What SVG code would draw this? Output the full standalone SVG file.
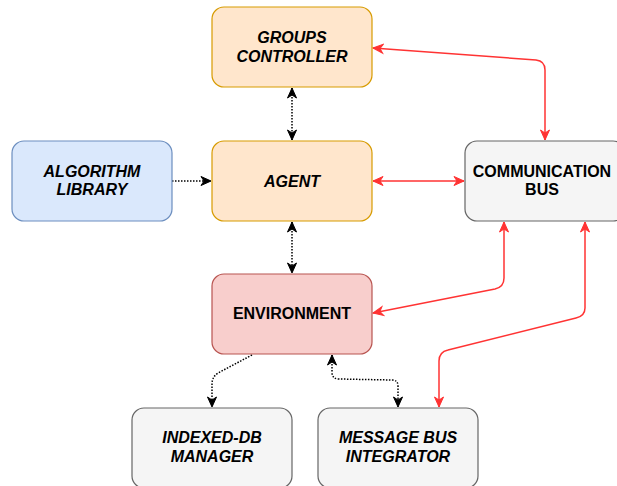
<svg xmlns="http://www.w3.org/2000/svg" width="617" height="486" viewBox="0 0 617 486">
  <style>
    .box { stroke-width: 1.2; }
    .orange { fill: #ffe6cc; stroke: #d79b00; }
    .blue { fill: #dae8fc; stroke: #6c8ebf; }
    .gray { fill: #f5f5f5; stroke: #666666; }
    .pink { fill: #f8cecc; stroke: #b85450; }
    text { font-family: "Liberation Sans", Arial, Helvetica, sans-serif; font-size: 16px; font-weight: bold; fill: #000; text-anchor: middle; }
    .it { font-style: italic; }
    .red { fill: none; stroke: #ff3333; stroke-width: 1.5; }
    .dot { fill: none; stroke: #000; stroke-width: 1.5; stroke-dasharray: 1.5 1.5; }
  </style>
  <defs>
    <marker id="arrRed" viewBox="-11 -6 12 12" refX="0" refY="0" markerWidth="12" markerHeight="12" markerUnits="userSpaceOnUse" orient="auto-start-reverse">
      <path d="M0,0 L-10,-4.5 L-7,0 L-10,4.5 Z" fill="#ff3333" stroke="#ff3333" stroke-width="1"/>
    </marker>
    <marker id="arrBlk" viewBox="-11 -6 12 12" refX="0" refY="0" markerWidth="12" markerHeight="12" markerUnits="userSpaceOnUse" orient="auto-start-reverse">
      <path d="M0,0 L-10,-4.5 L-7,0 L-10,4.5 Z" fill="#000" stroke="#000" stroke-width="1"/>
    </marker>
  </defs>

  <g id="connectors">
    <!-- groups controller <-> agent -->
    <path class="dot" d="M292,88 L292,140" marker-start="url(#arrBlk)" marker-end="url(#arrBlk)"/>
    <!-- agent <-> environment -->
    <path class="dot" d="M292,222 L292,273" marker-start="url(#arrBlk)" marker-end="url(#arrBlk)"/>
    <!-- algorithm library -> agent -->
    <path class="dot" d="M172,181 L211,181" marker-end="url(#arrBlk)"/>
    <!-- agent <-> communication bus -->
    <path class="red" d="M373,181 L464,181" marker-start="url(#arrRed)" marker-end="url(#arrRed)"/>
    <!-- groups controller <-> communication bus -->
    <path class="red" d="M373,48 L536,60 Q545,61 545,70 L545,140" marker-start="url(#arrRed)" marker-end="url(#arrRed)"/>
    <!-- environment <-> communication bus -->
    <path class="red" d="M373,313 L495,289 Q504,287 504,278 L504,222" marker-start="url(#arrRed)" marker-end="url(#arrRed)"/>
    <!-- communication bus <-> message bus integrator -->
    <path class="red" d="M585,222 L585,308 Q585,316 576,318 L448,350 Q439,352 439,361 L439,407" marker-start="url(#arrRed)" marker-end="url(#arrRed)"/>
    <!-- environment -> indexed-db manager -->
    <path class="dot" d="M252,355 L218,373 Q212,377 212,384 L212,407" marker-end="url(#arrBlk)"/>
    <!-- environment <-> message bus integrator -->
    <path class="dot" d="M332,355 L332,372 Q332,379 339,379 L392,380 Q398,380 398,386 L398,407" marker-start="url(#arrBlk)" marker-end="url(#arrBlk)"/>
  </g>

  <g id="groups-controller">
    <rect class="box orange" x="212" y="7" width="160" height="80" rx="12"/>
    <text class="it" x="292" y="43.3">GROUPS</text>
    <text class="it" x="292" y="61.7">CONTROLLER</text>
  </g>

  <g id="algorithm-library">
    <rect class="box blue" x="12" y="141" width="160" height="80" rx="12"/>
    <text class="it" x="92" y="176.7">ALGORITHM</text>
    <text class="it" x="92" y="195">LIBRARY</text>
  </g>

  <g id="agent">
    <rect class="box orange" x="212" y="141" width="160" height="80" rx="12"/>
    <text class="it" x="292" y="186.5">AGENT</text>
  </g>

  <g id="communication-bus">
    <rect class="box gray" x="465" y="141" width="160" height="80" rx="12"/>
    <text x="542" y="176.7">COMMUNICATION</text>
    <text x="542" y="195">BUS</text>
  </g>

  <g id="environment">
    <rect class="box pink" x="212" y="274" width="160" height="80" rx="12"/>
    <text x="292" y="319.3">ENVIRONMENT</text>
  </g>

  <g id="indexed-db-manager">
    <rect class="box gray" x="132" y="408" width="160" height="80" rx="12"/>
    <text class="it" x="212" y="443.3">INDEXED-DB</text>
    <text class="it" x="212" y="461.7">MANAGER</text>
  </g>

  <g id="message-bus-integrator">
    <rect class="box gray" x="318" y="408" width="160" height="80" rx="12"/>
    <text class="it" x="398" y="443.3">MESSAGE BUS</text>
    <text class="it" x="398" y="461.7">INTEGRATOR</text>
  </g>
</svg>
